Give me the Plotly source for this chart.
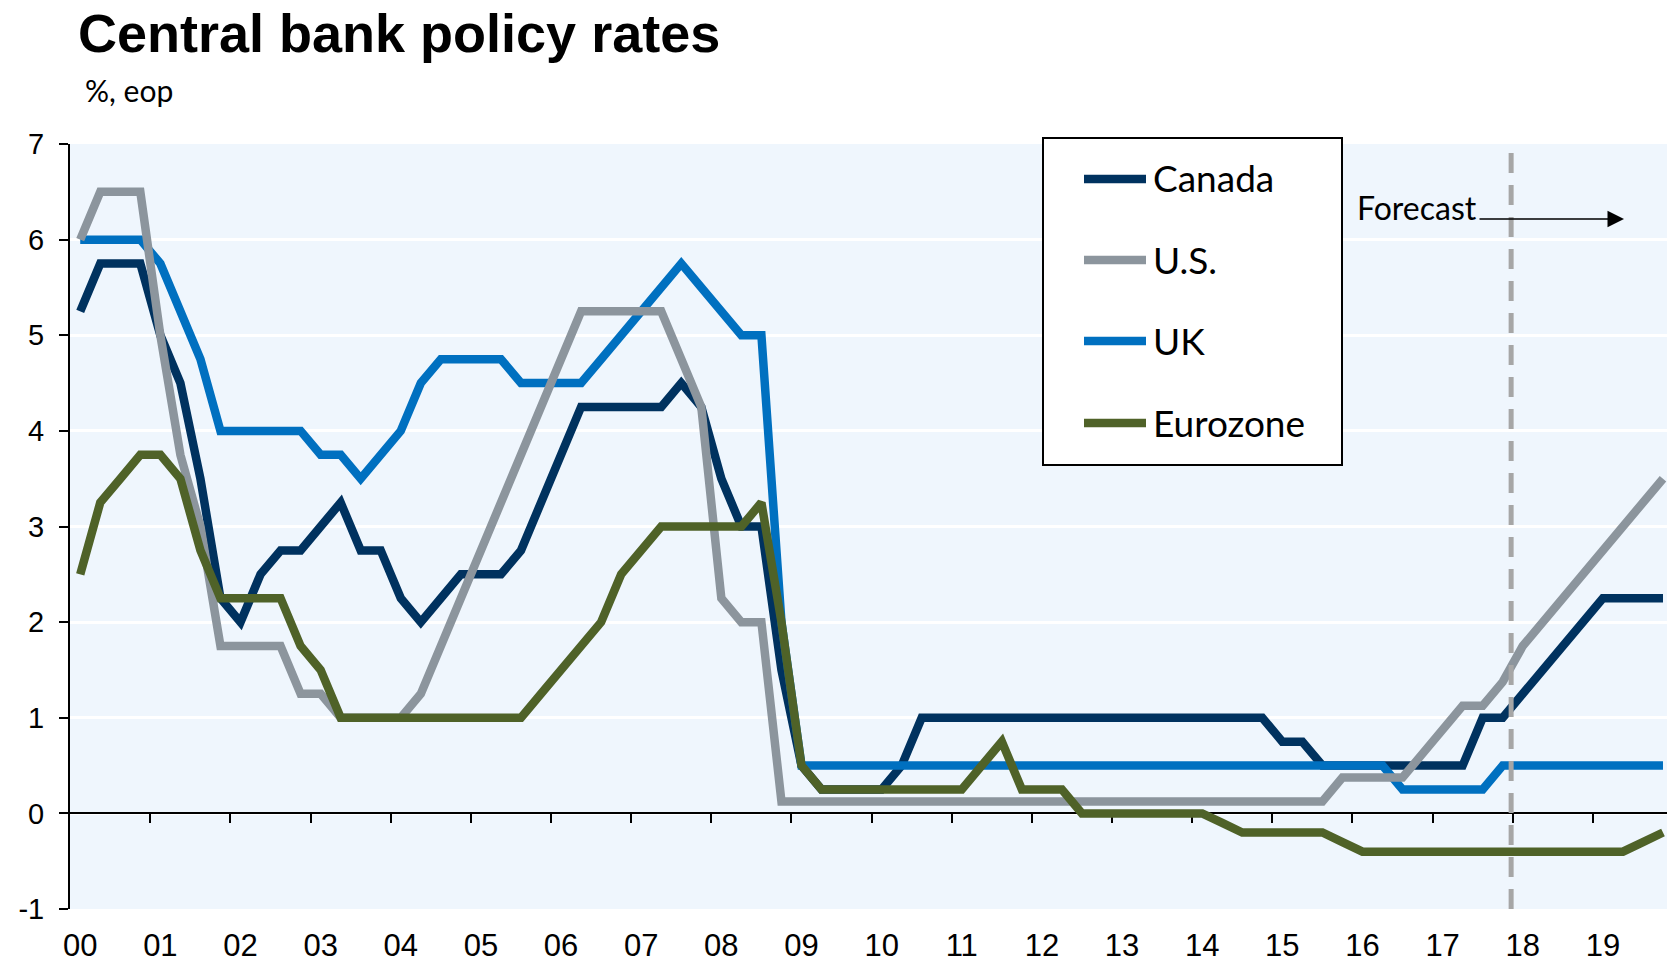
import plotly.graph_objects as go

# Quarterly data, 2000Q1 .. 2019Q4 (80 quarters)
years = ["00", "01", "02", "03", "04", "05", "06", "07", "08", "09",
         "10", "11", "12", "13", "14", "15", "16", "17", "18", "19"]

canada = [5.25, 5.75, 5.75, 5.75,
          5.0, 4.5, 3.5, 2.25,
          2.0, 2.5, 2.75, 2.75,
          3.0, 3.25, 2.75, 2.75,
          2.25, 2.0, 2.25, 2.5,
          2.5, 2.5, 2.75, 3.25,
          3.75, 4.25, 4.25, 4.25,
          4.25, 4.25, 4.5, 4.25,
          3.5, 3.0, 3.0, 1.5,
          0.5, 0.25, 0.25, 0.25,
          0.25, 0.5, 1.0, 1.0,
          1.0, 1.0, 1.0, 1.0,
          1.0, 1.0, 1.0, 1.0,
          1.0, 1.0, 1.0, 1.0,
          1.0, 1.0, 1.0, 1.0,
          0.75, 0.75, 0.5, 0.5,
          0.5, 0.5, 0.5, 0.5,
          0.5, 0.5, 1.0, 1.0,
          1.25, 1.5, 1.75, 2.0,
          2.25, 2.25, 2.25, 2.25]

us = [6.0, 6.5, 6.5, 6.5,
      5.0, 3.75, 3.0, 1.75,
      1.75, 1.75, 1.75, 1.25,
      1.25, 1.0, 1.0, 1.0,
      1.0, 1.25, 1.75, 2.25,
      2.75, 3.25, 3.75, 4.25,
      4.75, 5.25, 5.25, 5.25,
      5.25, 5.25, 4.75, 4.25,
      2.25, 2.0, 2.0, 0.125,
      0.125, 0.125, 0.125, 0.125,
      0.125, 0.125, 0.125, 0.125,
      0.125, 0.125, 0.125, 0.125,
      0.125, 0.125, 0.125, 0.125,
      0.125, 0.125, 0.125, 0.125,
      0.125, 0.125, 0.125, 0.125,
      0.125, 0.125, 0.125, 0.375,
      0.375, 0.375, 0.375, 0.625,
      0.875, 1.125, 1.125, 1.375,
      1.75, 2.0, 2.25, 2.5,
      2.75, 3.0, 3.25, 3.5]

uk = [6.0, 6.0, 6.0, 6.0,
      5.75, 5.25, 4.75, 4.0,
      4.0, 4.0, 4.0, 4.0,
      3.75, 3.75, 3.5, 3.75,
      4.0, 4.5, 4.75, 4.75,
      4.75, 4.75, 4.5, 4.5,
      4.5, 4.5, 4.75, 5.0,
      5.25, 5.5, 5.75, 5.5,
      5.25, 5.0, 5.0, 2.0,
      0.5, 0.5, 0.5, 0.5,
      0.5, 0.5, 0.5, 0.5,
      0.5, 0.5, 0.5, 0.5,
      0.5, 0.5, 0.5, 0.5,
      0.5, 0.5, 0.5, 0.5,
      0.5, 0.5, 0.5, 0.5,
      0.5, 0.5, 0.5, 0.5,
      0.5, 0.5, 0.25, 0.25,
      0.25, 0.25, 0.25, 0.5,
      0.5, 0.5, 0.5, 0.5,
      0.5, 0.5, 0.5, 0.5]

eurozone = [2.5, 3.25, 3.5, 3.75,
            3.75, 3.5, 2.75, 2.25,
            2.25, 2.25, 2.25, 1.75,
            1.5, 1.0, 1.0, 1.0,
            1.0, 1.0, 1.0, 1.0,
            1.0, 1.0, 1.0, 1.25,
            1.5, 1.75, 2.0, 2.5,
            2.75, 3.0, 3.0, 3.0,
            3.0, 3.0, 3.25, 2.0,
            0.5, 0.25, 0.25, 0.25,
            0.25, 0.25, 0.25, 0.25,
            0.25, 0.5, 0.75, 0.25,
            0.25, 0.25, 0.0, 0.0,
            0.0, 0.0, 0.0, 0.0,
            0.0, -0.1, -0.2, -0.2,
            -0.2, -0.2, -0.2, -0.3,
            -0.4, -0.4, -0.4, -0.4,
            -0.4, -0.4, -0.4, -0.4,
            -0.4, -0.4, -0.4, -0.4,
            -0.4, -0.4, -0.3, -0.2]

quarters = list(range(len(canada)))

C_CANADA = "#00325F"
C_US = "#8C959D"
C_UK = "#0070C0"
C_EURO = "#4F6228"

W, H = 1667, 964
ML, MR, MT, MB = 70, 0, 144, 55
PW = W - ML - MR
PH = H - MT - MB


def px2x(px):
    return (px - ML) / PW


def py2y(py):
    return (H - MB - py) / PH


fig = go.Figure()
# drawing order: Canada, UK, U.S., Eurozone (top)
for name, vals, col in [("Canada", canada, C_CANADA), ("UK", uk, C_UK),
                        ("U.S.", us, C_US), ("Eurozone", eurozone, C_EURO)]:
    fig.add_trace(go.Scatter(x=quarters, y=vals, mode="lines", name=name,
                             line=dict(color=col, width=8.5),
                             showlegend=False))

# dummy trace for zero-line axis
fig.add_trace(go.Scatter(x=[None], y=[None], xaxis="x2", showlegend=False,
                         hoverinfo="skip"))

xr = [-0.51, 79.2]
TICKFONT = "Liberation Sans Narrow, Arial Narrow, Liberation Sans, Arial, sans-serif"
fig.update_layout(
    width=W, height=H,
    margin=dict(l=ML, r=MR, t=MT, b=MB),
    paper_bgcolor="white",
    plot_bgcolor="#EFF6FD",
    xaxis=dict(range=xr, tickvals=[4 * k for k in range(len(years))],
               ticktext=years, ticks="", showgrid=False, zeroline=False,
               showline=False,
               tickfont=dict(family=TICKFONT, size=31, color="black"),
               ticklabelstandoff=15),
    xaxis2=dict(range=xr, overlaying="x", anchor="free", position=0.125,
                tickvals=[4 * k + 3.5 for k in range(19)],
                ticks="outside", ticklen=9, tickwidth=2, tickcolor="black",
                showline=True, linecolor="black", linewidth=2,
                showticklabels=False, showgrid=False, zeroline=False,
                layer="below traces"),
    yaxis=dict(range=[-1, 7], tickvals=list(range(-1, 8)),
               ticktext=[str(v) for v in range(-1, 8)],
               showgrid=True, gridcolor="white", gridwidth=2.5,
               zeroline=False, showline=True, linecolor="black", linewidth=2,
               ticks="outside", ticklen=9, tickwidth=2, tickcolor="black",
               tickfont=dict(family=TICKFONT, size=29, color="black"),
               ticklabelstandoff=9),
)

shapes = []
# forecast divider
shapes.append(dict(type="line", xref="x", yref="paper", x0=71.42, x1=71.42,
                   y0=0, y1=1, line=dict(color="#A6A6A6", width=5, dash="20px,12px"),
                   layer="above"))
# legend box
shapes.append(dict(type="rect", xref="paper", yref="paper",
                   x0=px2x(1043), x1=px2x(1342), y0=py2y(465), y1=py2y(138),
                   fillcolor="white", line=dict(color="black", width=2), layer="above"))

annotations = []
leg_items = [("Canada", C_CANADA), ("U.S.", C_US), ("UK", C_UK), ("Eurozone", C_EURO)]
leg_y = [179, 260, 341, 423]
for (name, col), ly in zip(leg_items, leg_y):
    shapes.append(dict(type="line", xref="paper", yref="paper",
                       x0=px2x(1084), x1=px2x(1146), y0=py2y(ly), y1=py2y(ly),
                       line=dict(color=col, width=8.5), layer="above"))
    annotations.append(dict(text=name, xref="paper", yref="paper",
                            x=px2x(1151), y=py2y(ly - 1), xanchor="left", yanchor="middle",
                            showarrow=False,
                            font=dict(family="Lato", size=37, color="black")))

# Forecast label and arrow
annotations.append(dict(text="Forecast", xref="paper", yref="paper",
                        x=px2x(1355), y=py2y(207), xanchor="left", yanchor="middle",
                        showarrow=False, font=dict(family="Lato", size=32, color="black")))
annotations.append(dict(text="", xref="paper", yref="paper",
                        x=px2x(1624), y=py2y(219), ax=-146, ay=0,
                        axref="pixel", ayref="pixel",
                        showarrow=True, arrowhead=2, arrowsize=2.2, arrowwidth=1.5,
                        arrowcolor="black", standoff=0))

# Title and subtitle
annotations.append(dict(text="<b>Central bank policy rates</b>", xref="paper", yref="paper",
                        x=px2x(76), y=1.0, yshift=MT - 1,
                        xanchor="left", yanchor="top",
                        showarrow=False,
                        font=dict(family="Liberation Sans, Arial, sans-serif", size=54, color="black")))
annotations.append(dict(text="%, eop", xref="paper", yref="paper",
                        x=px2x(83), y=py2y(90), xanchor="left", yanchor="middle",
                        showarrow=False, font=dict(family="Lato", size=30, color="black")))

fig.update_layout(shapes=shapes, annotations=annotations)
fig.write_html("out.html", config={"displayModeBar": False},
               post_script="document.body.style.margin='0';document.body.style.padding='0';document.body.style.overflow='hidden';")
